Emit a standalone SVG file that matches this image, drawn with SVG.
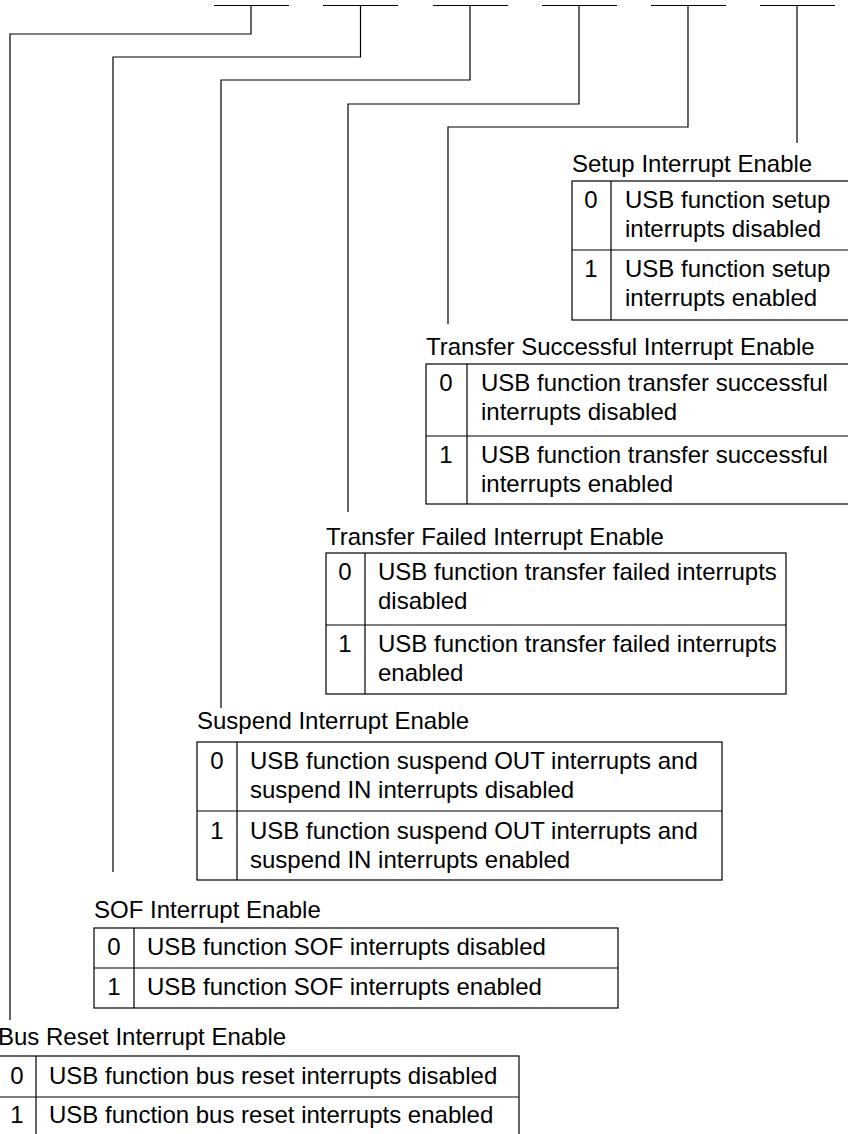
<svg xmlns="http://www.w3.org/2000/svg" width="848" height="1134" viewBox="0 0 848 1134">
<style>
.ln{fill:none;stroke:#000;stroke-width:1.2}
.tb{fill:none;stroke:#000;stroke-width:1.2}
text{font-family:"Liberation Sans",Arial,sans-serif;font-size:24px;fill:#000}
.d{text-anchor:middle}
</style>
<rect width="848" height="1134" fill="#fff"/>
<g id="connectors">
<path class="ln" d="M214,5.5H289M323,5.5H398M433,5.5H508M542,5.5H617M651,5.5H726M760,5.5H835"/>
<path class="ln" d="M251,5.5V34H10V1020"/>
<path class="ln" d="M360.5,5.5V57H113V872"/>
<path class="ln" d="M470,5.5V80H221V708"/>
<path class="ln" d="M579,5.5V104H348V512"/>
<path class="ln" d="M688,5.5V127H448V324"/>
<path class="ln" d="M797,5.5V143"/>
</g>
<g id="setup">
<text x="572" y="172">Setup Interrupt Enable</text>
<rect class="tb" x="572" y="181" width="280" height="139"/>
<path class="tb" d="M611,181V320M572,250H852"/>
<text class="d" x="591" y="208">0</text>
<text x="625" y="208">USB function setup</text>
<text x="625" y="237">interrupts disabled</text>
<text class="d" x="591" y="277">1</text>
<text x="625" y="277">USB function setup</text>
<text x="625" y="306">interrupts enabled</text>
</g>
<g id="transfer-successful">
<text x="426" y="355">Transfer Successful Interrupt Enable</text>
<rect class="tb" x="426" y="364" width="426" height="140"/>
<path class="tb" d="M467,364V504M426,436H852"/>
<text class="d" x="446" y="391">0</text>
<text x="481" y="391">USB function transfer successful</text>
<text x="481" y="420">interrupts disabled</text>
<text class="d" x="446" y="463">1</text>
<text x="481" y="463">USB function transfer successful</text>
<text x="481" y="492">interrupts enabled</text>
</g>
<g id="transfer-failed">
<text x="326" y="545">Transfer Failed Interrupt Enable</text>
<rect class="tb" x="326" y="553" width="460" height="141"/>
<path class="tb" d="M365,553V694M326,625H786"/>
<text class="d" x="345" y="580">0</text>
<text x="378" y="580">USB function transfer failed interrupts</text>
<text x="378" y="609">disabled</text>
<text class="d" x="345" y="652">1</text>
<text x="378" y="652">USB function transfer failed interrupts</text>
<text x="378" y="681">enabled</text>
</g>
<g id="suspend">
<text x="197" y="729">Suspend Interrupt Enable</text>
<rect class="tb" x="197" y="742" width="525" height="138"/>
<path class="tb" d="M237,742V880M197,811H722"/>
<text class="d" x="217" y="769">0</text>
<text x="250" y="769">USB function suspend OUT interrupts and</text>
<text x="250" y="798">suspend IN interrupts disabled</text>
<text class="d" x="217" y="839">1</text>
<text x="250" y="839">USB function suspend OUT interrupts and</text>
<text x="250" y="868">suspend IN interrupts enabled</text>
</g>
<g id="sof">
<text x="94" y="918">SOF Interrupt Enable</text>
<rect class="tb" x="94" y="928" width="524" height="80"/>
<path class="tb" d="M134,928V1008M94,968H618"/>
<text class="d" x="114" y="955">0</text>
<text x="147" y="955">USB function SOF interrupts disabled</text>
<text class="d" x="114" y="995">1</text>
<text x="147" y="995">USB function SOF interrupts enabled</text>
</g>
<g id="bus-reset">
<text x="-2" y="1045">Bus Reset Interrupt Enable</text>
<rect class="tb" x="-4" y="1056" width="523" height="82"/>
<path class="tb" d="M36,1056V1138M-4,1097H519"/>
<text class="d" x="17" y="1084">0</text>
<text x="49" y="1084">USB function bus reset interrupts disabled</text>
<text class="d" x="17" y="1123">1</text>
<text x="49" y="1123">USB function bus reset interrupts enabled</text>
</g>
</svg>
